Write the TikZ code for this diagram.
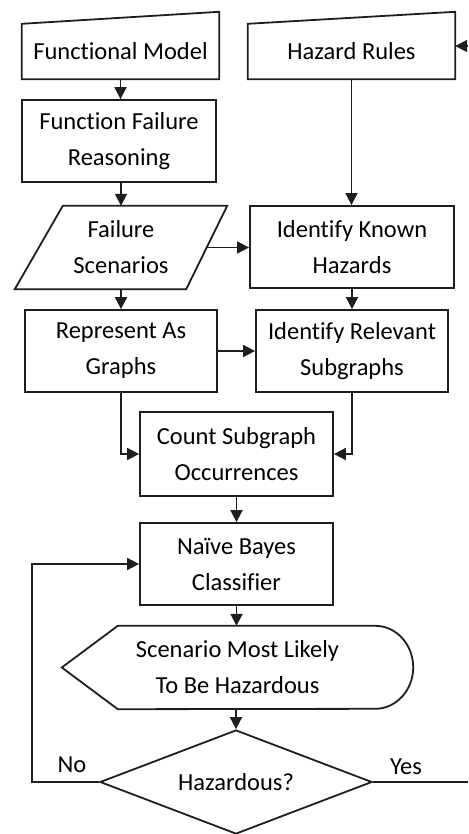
\documentclass[tikz,border=0pt]{standalone}
\usepackage{fontspec}
\setmainfont{Carlito}[Ligatures=NoCommon]
\usetikzlibrary{arrows.meta,shapes.geometric,calc}
\definecolor{ink}{HTML}{1E1E1E}
\begin{document}
\begin{tikzpicture}[x=1pt,y=-1pt,
  every node/.style={font=\fontsize{24.5}{36}\selectfont, text=black, inner sep=0pt, align=center},
  ln/.style={draw=ink, line width=1.8pt},
  arr/.style={ln, -{Triangle[length=12pt,width=12pt]}},
  box/.style={rectangle, ln},
  ghost/.style={rectangle, draw=none}
]
\useasboundingbox (0,0) rectangle (468,834);

% nodes
\node[ghost, minimum width=197pt, minimum height=55pt] (fm) at (120.5,51.5) {Functional Model};
\node[ghost, minimum width=207pt, minimum height=55pt] (hr) at (351.5,51.5) {Hazard Rules};
\node[box, minimum width=194pt, minimum height=82pt] (ffr) at (119,141) {Function Failure\\Reasoning};
\node[ghost, minimum width=212pt, minimum height=83pt] (fs) at (121,247.5) {Failure\\Scenarios};
\node[box, minimum width=204pt, minimum height=82pt] (ikh) at (352,247) {Identify Known\\Hazards};
\node[box, minimum width=192pt, minimum height=82pt] (rag) at (121,351) {Represent As\\Graphs};
\node[box, minimum width=192pt, minimum height=82pt] (irs) at (352,351) {Identify Relevant\\Subgraphs};
\node[box, minimum width=193pt, minimum height=84pt] (cso) at (236.5,454) {Count Subgraph\\Occurrences};
\node[box, minimum width=193pt, minimum height=82pt] (nb) at (236.5,564) {Naïve Bayes\\Classifier};
\node[ghost, minimum width=351pt, minimum height=83pt] (disp) at (237.5,667.5) {Scenario Most Likely\\To Be Hazardous};
\node[diamond, ln, minimum width=272pt, minimum height=104pt, aspect=2.6] (dia) at (236,782) {Hazardous?};

% special outlines
\draw[ln] (fm.south west) -- (fm.north west) -- ([yshift=12pt]fm.north east) -- (fm.south east) -- cycle;
\draw[ln] (hr.south west) -- (hr.north west) -- ([yshift=12pt]hr.north east) -- (hr.south east) -- cycle;
\draw[ln] (fs.south west) -- ([xshift=48pt]fs.north west) -- (fs.north east) -- ([xshift=-41pt]fs.south east) -- cycle;
\draw[ln] (disp.west) -- ([xshift=56pt]disp.north west) -- ([xshift=-38pt]disp.north east)
   arc[start angle=-90, end angle=90, x radius=38, y radius=41.5] -- ([xshift=56pt]disp.south west) -- cycle;

% coordinates for free ends
\coordinate (ret) at (468,46);
\coordinate (yesend) at (468,782);

% connectors
\draw[arr] (fm.south) -- (fm.south |- ffr.north);
\draw[arr] (fs.north |- ffr.south) -- (fs.north);
\draw[arr] (fs.south) -- (fs.south |- rag.north);
\draw[arr] (hr.south) -- (hr.south |- ikh.north);
\draw[arr] ([xshift=-20pt]fs.east) -- (ikh.west |- fs.east);
\draw[arr] (ikh.south) -- (irs.north);
\draw[arr] (rag.east) -- (irs.west);
\draw[arr] (rag.south) |- (cso.west);
\draw[arr] (irs.south) |- (cso.east);
\draw[arr] (cso.south) -- (nb.north);
\draw[arr] (nb.south) -- (nb.south |- disp.north);
\draw[arr] (dia.north |- disp.south) -- (dia.north);
\draw[arr] (dia.west) -- ++(-67,0) coordinate (nocorner) |- (nb.west);
\draw[ln] (dia.east) -- (yesend);
\draw[arr] (ret) -- (hr.east |- ret);

% labels
\node (nolab) at (72,765) {No};
\node (yeslab) at (406,767) {Yes};
\end{tikzpicture}
\end{document}
